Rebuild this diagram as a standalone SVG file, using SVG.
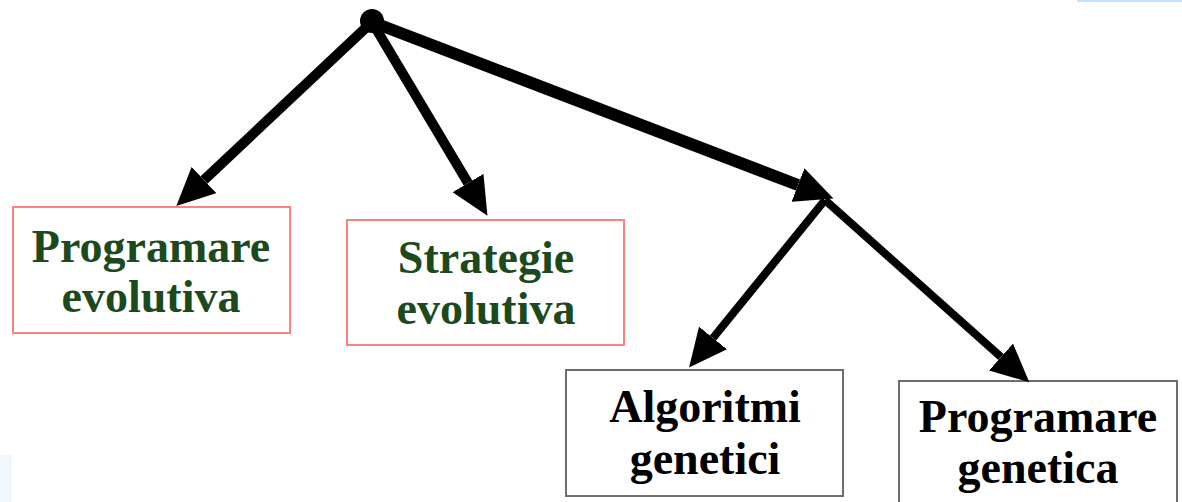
<svg xmlns="http://www.w3.org/2000/svg" width="1182" height="502" viewBox="0 0 1182 502">
<style>
.t{font-family:"Liberation Serif","Times New Roman",serif;font-weight:bold;font-size:46px;text-anchor:middle}
.g{fill:#1c4a1c}
.k{fill:#000}
.rb{fill:#fff;stroke:#ff8080;stroke-width:2}
.kb{fill:#fff;stroke:#6e6e6e;stroke-width:2}
.c{stroke:#000;fill:none}
</style>
<defs>
<marker id="ah" markerUnits="userSpaceOnUse" markerWidth="38" markerHeight="36" viewBox="0 0 38 36" refX="0" refY="18" orient="auto">
<path d="M0,0 L38,18 L0,36 z" fill="#000"/>
</marker>
</defs>
<rect x="1077" y="0" width="105" height="2" fill="#bde3ff"/>
<rect x="0" y="455" width="12" height="47" fill="#f0f8ff"/>
<g id="n-prog-evol">
<rect class="rb" x="13" y="207" width="277" height="126"/>
<text class="t g" x="151" y="262">Programare</text>
<text class="t g" x="151" y="312">evolutiva</text>
</g>
<g id="n-strat-evol">
<rect class="rb" x="347" y="220" width="277" height="125"/>
<text class="t g" x="486" y="273">Strategie</text>
<text class="t g" x="486" y="324">evolutiva</text>
</g>
<g id="n-alg-gen">
<rect class="kb" x="566" y="370" width="277" height="126"/>
<text class="t k" x="705" y="422">Algoritmi</text>
<text class="t k" x="705" y="474">genetici</text>
</g>
<g id="n-prog-gen">
<rect class="kb" x="899" y="381" width="278" height="130"/>
<text class="t k" x="1038" y="432">Programare</text>
<text class="t k" x="1038" y="483">genetica</text>
</g>
<g id="connectors">
<circle cx="372" cy="21" r="12" fill="#000"/>
<line class="c" x1="372" y1="22" x2="204" y2="180" stroke-width="10" marker-end="url(#ah)"/>
<line class="c" x1="372" y1="22" x2="468" y2="183" stroke-width="10" marker-end="url(#ah)"/>
<line class="c" x1="372" y1="22" x2="798" y2="185" stroke-width="12" marker-end="url(#ah)"/>
<line class="c" x1="825" y1="200" x2="713" y2="338" stroke-width="8" marker-end="url(#ah)"/>
<line class="c" x1="825" y1="200" x2="1001" y2="357" stroke-width="8" marker-end="url(#ah)"/>
</g>
</svg>
